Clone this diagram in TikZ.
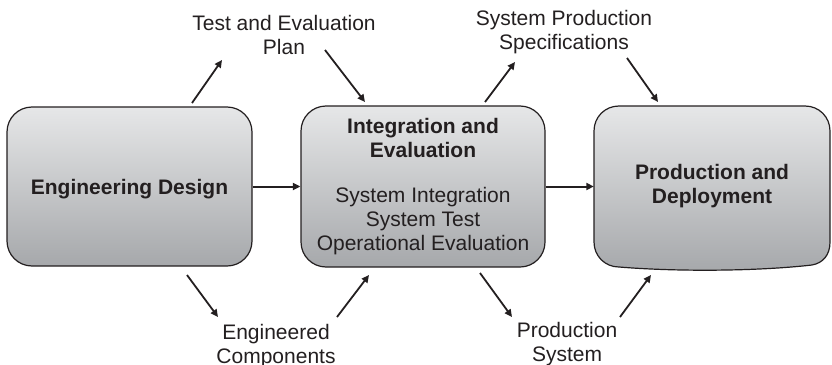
\documentclass[tikz,border=0pt]{standalone}
\usepackage{fontspec}
\setmainfont{Liberation Sans}
\usetikzlibrary{arrows.meta}
\definecolor{ink}{HTML}{231F20}
\definecolor{boxtop}{HTML}{E6E7E8}
\definecolor{boxbot}{HTML}{A6A8AB}
\tikzset{
  txt/.style={font=\fontsize{21}{24}\selectfont, text=ink, align=center, inner sep=0pt},
  stagebox/.style={draw=ink, line width=1.2pt, rounded corners=25pt, top color=boxtop, bottom color=boxbot, inner sep=0pt, txt},
  flow/.style={draw=ink, line width=1.8pt, -{Triangle[length=7.5pt,width=7pt]}},
  lbl/.style={txt, anchor=north},
}
\begin{document}
\begin{tikzpicture}[x=1pt,y=-1pt]
\useasboundingbox (0,0) rectangle (832,364);

% boxes
\node[stagebox, minimum width=245pt, minimum height=159pt, text depth=0pt, font=\fontsize{21}{24}\selectfont\bfseries] (b1) at (129.5,186.5) {Engineering Design};
\node[stagebox, minimum width=244pt, minimum height=161pt] (b2) at (423,186.5)
  {\textbf{Integration and}\\\textbf{Evaluation}\\[21pt]System Integration\\System Test\\Operational Evaluation};
\shade[top color=boxtop, bottom color=boxbot]
  (594,131) -- (594,242) .. controls (594,256) and (605,267) .. (619,267)
  .. controls (680,272) and (760,271) .. (812,265)
  .. controls (823,263) and (830,255) .. (830,242) -- (830,131)
  .. controls (830,117) and (819,106) .. (805,106) -- (619,106)
  .. controls (605,106) and (594,117) .. (594,131) -- cycle;
\draw[ink, line width=1.2pt]
  (594,131) -- (594,242) .. controls (594,256) and (605,267) .. (619,267)
  .. controls (680,272) and (760,271) .. (812,265)
  .. controls (823,263) and (830,255) .. (830,242) -- (830,131)
  .. controls (830,117) and (819,106) .. (805,106) -- (619,106)
  .. controls (605,106) and (594,117) .. (594,131) -- cycle;
\node[txt, font=\fontsize{21}{24}\selectfont\bfseries, minimum width=236pt, minimum height=161pt] (b3) at (712,186.5) {Production and\\Deployment};

% labels
\node[lbl] (tep) at (284,15.5) {Test and Evaluation\\Plan};
\node[lbl] (sps) at (564,10.5) {System Production\\Specifications};
\node[lbl] (ec) at (276,324.5) {Engineered\\Components};
\node[lbl] (ps) at (567,322.5) {Production\\System};

% arrow end points
\coordinate (a1s) at (192,103); \coordinate (a1e) at (222,60);
\coordinate (a2s) at (325,50);  \coordinate (a2e) at (365,102);
\coordinate (a3s) at (485,102); \coordinate (a3e) at (515,62);
\coordinate (a4s) at (627,58);  \coordinate (a4e) at (658,102);
\coordinate (a5s) at (187,275); \coordinate (a5e) at (218,317);
\coordinate (a6s) at (337,317); \coordinate (a6e) at (369,275);
\coordinate (a7s) at (480,273); \coordinate (a7e) at (512,317);
\coordinate (a8s) at (620,317); \coordinate (a8e) at (651,275);

\draw[flow] (a1s) -- (a1e);
\draw[flow] (a2s) -- (a2e);
\draw[flow] (a3s) -- (a3e);
\draw[flow] (a4s) -- (a4e);
\draw[flow] (a5s) -- (a5e);
\draw[flow] (a6s) -- (a6e);
\draw[flow] (a7s) -- (a7e);
\draw[flow] (a8s) -- (a8e);
\draw[flow, line width=2pt] (b1.east) -- (b2.west);
\draw[flow, line width=2pt] (b2.east) -- (b3.west);
\end{tikzpicture}
\end{document}
